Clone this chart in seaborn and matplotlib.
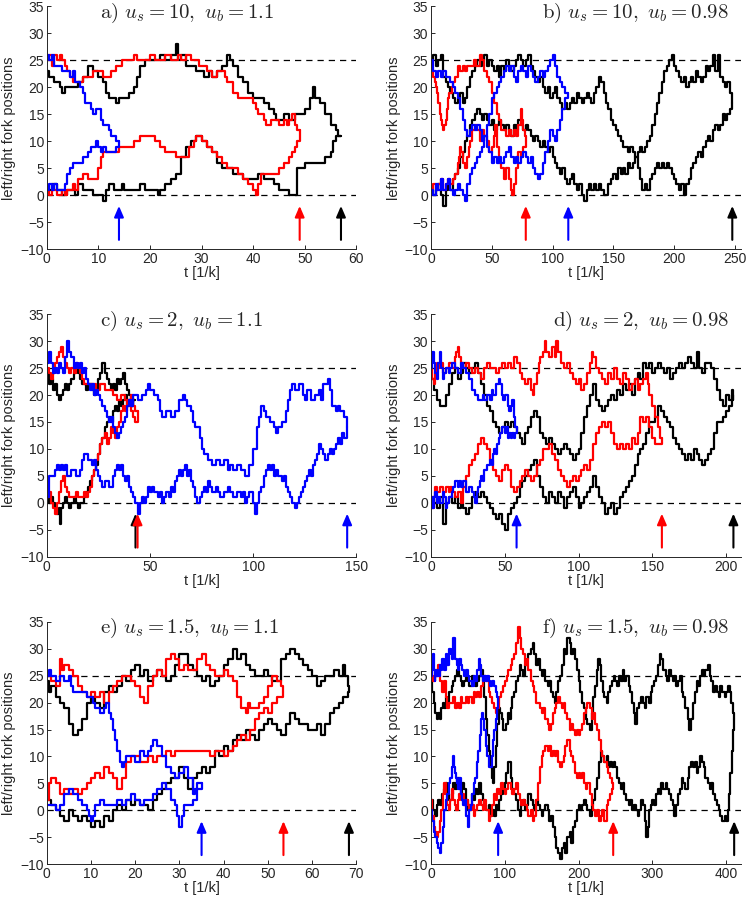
import numpy as np
import pandas as pd
import matplotlib
matplotlib.use("Agg")
import matplotlib.pyplot as plt
import seaborn as sns

# ---- panel a) u_s = 10, u_b = 1.1 ----
a_blue_top = [(0,26),(0.5,25),(1,26),(1.5,24),(2.5,24),(3,23),(4,23),(4.5,22),(5,23),(5.5,21),(6.5,20),(7,19),(7.5,17),(8.5,16),(9,15),(9.5,16),(10,16),(10.5,14),(11,13),(12,12),(12.5,11),(13,11),(13.5,10),(14,10)]
a_blue_bot = [(0,1),(0.5,2),(1,1),(1.5,2),(2,1),(3,1),(3.5,2),(4,4),(4.5,5),(5,6),(6,6),(7,7),(8,8),(8.5,9),(9.5,10),(10,9),(10.5,8),(11,9),(11.5,8),(13,8),(13.5,9),(14,10)]
a_red_top = [(0,25),(0.5,26),(1,24),(1.5,26),(2,25),(2.5,26),(3,25),(3.5,24),(4,23),(4.5,22),(5,21),(6.5,21),(7,22),(8,22),(9,23),(10,23),(11,22),(12,22),(12.5,23),(13.5,24),(14.5,25),(16,25),(17,26),(17.5,25),(19,25),(20,26),(21,25),(22,25),(23,26),(24,25),(25.5,26),(26,25),(27,26),(28,25),(29,25),(29.5,24),(30.5,24),(31,23),(32,22),(33,23),(34,23),(34.5,22),(35,21),(36,19),(37,18),(39,18),(40,17),(40.5,16),(41,15),(42,14),(42.5,13),(43.5,14),(44.5,14),(45,13),(46,14),(46.5,13),(47,14),(47.5,15),(48,13),(48.5,12),(49,12)]
a_red_bot = [(0,1),(0.5,0),(1,1),(2,0),(3,1),(3.5,0),(4,1),(5,2),(5.5,1),(6,3),(7,4),(8,3),(9.5,3),(10,5),(10.5,7),(11,8),(13,8),(14,9),(16,9),(17,10),(18,11),(20.5,11),(21,10),(22,9),(23,8),(24,8),(25,7),(27,7),(27.5,9),(28.5,10),(29,11),(30,10),(31,9),(32,8),(33,7),(34,6),(35,5),(36,5),(37,4),(38,3),(39,2),(40,1),(40.5,0),(41,2),(41.5,4),(44,4),(45,5),(46,6),(47,7),(47.5,8),(48,9),(48.5,10),(49,12)]
a_black_top = [(0,23),(0.5,22),(1.5,21),(2.5,20),(3,19),(3.5,20),(5,20),(6,21),(7,22),(8,24),(9,23),(10,22),(11,21),(11.5,19),(12,18),(13,18),(13.5,17),(14,18),(15,18),(16,19),(17,20),(17.5,22),(18,24),(19,25),(21,25),(22,26),(23,25),(24,26),(25,28),(25.5,25),(26,26),(27,24),(28,24),(29,23),(30,23),(30.5,22),(31.5,23),(32,22),(33,23),(34,24),(35,26),(35.5,25),(36,24),(37,22),(38,21),(39,19),(40,18),(41,18),(42,17),(43,16),(44,15),(44.5,14),(45.5,14),(46,15),(47,14),(48,15),(49,15),(50,16),(51,18),(51.5,20),(52,18),(53,17),(54,15),(55,13),(56,12),(56.5,11),(57,11)]
a_black_bot = [(0,1),(1,2),(2,1),(3,0),(4,1),(5,1),(5.5,0),(6,2),(7,1),(8,1),(9,0),(10,0),(11,-1),(11.5,1),(12,2),(13,1),(14,1),(14.5,2),(15,1),(17,1),(18,2),(19,1),(21,1),(21.5,0),(22,1),(23,2),(24,3),(25,4),(26,7),(27,9),(28,10),(29,11),(30,10),(31,9),(32,8),(33,6),(34,5),(35,5),(36,4),(38,3),(40,3),(41,4),(42,3),(43,3),(44,2),(45,1),(46,1),(47,0),(48,0),(48.5,5),(50,6),(53,6),(54,7),(55,8),(55.5,10),(56,11),(57,11)]

# ---- panel b) u_s = 10, u_b = 0.98 ----
b_red_top = [(0,25),(1,23),(2,22),(3,21),(4,20),(5,19),(6,17),(7,15),(8,14),(9,13),(10,12),(11,13),(12,14),(13,16),(14,18),(15,19),(17,20),(18,21),(20,22),(22,24),(24,23),(26,24),(28,23),(30,24),(33,24),(35,25),(37,24),(40,26),(42,25),(44,23),(46,22),(48,21),(50,19),(52,17),(54,15),(56,14),(58,12),(60,12),(62,11),(64,12),(66,11),(68,12),(70,11),(72,13),(74,16),(75,14),(76,12),(77,11),(78,10)]
b_red_bot = [(0,1),(2,2),(4,1),(6,2),(8,3),(10,1),(12,2),(14,3),(16,2),(18,3),(20,4),(22,6),(23,7),(24,9),(25,8),(26,6),(28,5),(30,7),(31,9),(32,10),(34,12),(36,13),(38,12),(40,10),(42,12),(44,11),(46,10),(48,8),(50,9),(52,11),(53,13),(54,9),(56,6),(58,5),(60,3),(62,5),(64,3),(66,1),(67,0),(68,2),(70,5),(72,8),(74,7),(76,9),(78,10)]
b_blue_top = [(0,25),(2,23),(4,22),(6,23),(8,22),(10,23),(12,22),(14,22),(16,21),(18,20),(20,19),(22,18),(24,16),(26,14),(28,12),(30,11),(32,12),(34,13),(36,12),(38,13),(40,12),(42,10),(44,11),(46,9),(48,8),(50,6),(52,7),(54,6),(56,7),(58,6),(60,7),(62,8),(64,9),(66,7),(68,6),(70,7),(72,6),(74,7),(76,8),(78,7),(80,6),(82,7),(84,5),(86,4),(88,3),(90,4),(92,6),(94,8),(96,10),(98,12),(100,11),(102,10),(104,12),(106,14),(108,16),(110,18),(113,19)]
b_blue_bot = [(0,1),(2,0),(4,2),(6,1),(8,3),(10,1),(12,2),(14,3),(16,1),(18,0),(20,1),(22,2),(24,1),(26,0),(28,-1),(30,2),(32,4),(34,5),(36,6),(38,7),(40,8),(42,9),(44,11),(46,13),(48,15),(50,18),(52,19),(54,20),(56,21),(58,22),(60,23),(62,24),(64,23),(66,24),(68,22),(70,21),(72,23),(74,24),(76,23),(78,22),(80,24),(82,23),(84,22),(86,21),(88,22),(90,23),(92,22),(94,23),(96,24),(98,25),(100,26),(102,24),(104,22),(106,21),(108,20),(110,19),(113,19)]
b_black_top = [(0,25),(2,26),(4,24),(6,25),(8,26),(10,22),(12,21),(14,20),(16,19),(18,18),(20,17),(22,18),(24,19),(26,17),(28,18),(30,20),(32,22),(34,23),(36,24),(38,25),(40,24),(42,25),(44,26),(46,24),(48,25),(50,24),(52,23),(54,24),(56,22),(58,24),(60,23),(62,25),(64,24),(66,23),(68,24),(70,25),(72,26),(74,25),(76,24),(78,25),(80,26),(82,24),(84,23),(86,22),(88,21),(90,22),(92,20),(94,19),(96,20),(98,18),(100,19),(102,20),(104,18),(106,17),(108,16),(110,17),(112,16),(114,17),(116,18),(118,17),(120,19),(122,18),(124,17),(126,18),(128,19),(130,18),(132,17),(134,19),(136,20),(138,22),(140,21),(142,19),(144,17),(146,16),(148,14),(150,13),(152,12),(154,11),(156,10),(158,9),(160,9),(162,8),(164,9),(166,8),(168,7),(170,8),(172,9),(174,8),(176,9),(178,10),(180,11),(182,13),(184,15),(186,17),(188,19),(190,21),(192,23),(194,24),(196,25),(198,26),(200,24),(202,23),(204,22),(206,21),(208,22),(210,20),(212,21),(214,22),(216,21),(218,23),(220,22),(222,21),(224,22),(226,24),(228,23),(230,24),(232,26),(234,23),(236,26),(238,22),(240,21),(242,20),(244,21),(246,19),(248,17)]
b_black_bot = [(0,1),(2,0),(4,1),(6,2),(8,0),(10,-2),(12,1),(14,2),(16,1),(18,3),(20,4),(22,5),(24,7),(26,8),(28,10),(30,11),(32,13),(34,14),(36,15),(38,16),(40,15),(42,14),(44,15),(46,14),(48,13),(50,14),(52,12),(54,13),(56,14),(58,13),(60,12),(62,13),(64,12),(66,11),(68,13),(70,12),(72,14),(74,13),(76,12),(78,13),(80,12),(82,11),(84,10),(86,11),(88,10),(90,9),(92,10),(94,9),(96,8),(98,9),(100,7),(102,6),(104,5),(106,4),(108,5),(110,3),(112,2),(114,3),(116,4),(118,2),(120,1),(122,2),(124,0),(126,-1),(128,1),(130,2),(132,1),(134,2),(136,1),(138,2),(140,1),(142,0),(144,0),(146,2),(148,3),(150,4),(152,3),(154,5),(156,4),(158,5),(160,4),(162,6),(164,5),(166,6),(168,7),(170,5),(172,3),(174,1),(176,2),(178,1),(180,3),(182,4),(184,5),(186,6),(188,5),(190,6),(192,5),(194,6),(196,5),(198,4),(200,3),(202,2),(204,1),(206,2),(208,0),(210,2),(212,3),(214,5),(216,6),(218,7),(220,8),(222,7),(224,9),(226,10),(228,11),(230,10),(232,12),(234,13),(236,12),(238,13),(240,15),(242,14),(244,15),(246,16),(248,17)]

# ---- panel c) u_s = 2, u_b = 1.1 ----
c_black_top = [(0,24),(1,22),(2,23),(3,21),(4,22),(5,20),(6,19),(7,20),(8,21),(9,22),(10,21),(11,22),(12,23),(13,24),(14,25),(15,24),(16,23),(17,22),(18,22),(19,21),(20,22),(21,22),(22,21),(23,20),(24,21),(25,23),(26,24),(27,26),(28,24),(29,23),(30,22),(31,21),(32,22),(33,21),(34,23),(35,22),(36,23),(37,24),(38,22),(39,21),(40,20),(41,18),(42,19),(43,19)]
c_black_bot = [(0,1),(1,0),(2,1),(3,0),(4,-1),(5,-2),(6,-1),(6.5,-4),(7,-1),(8,0),(9,1),(10,0),(11,-1),(12,0),(13,1),(14,0),(15,-1),(16,0),(17,0),(18,1),(19,2),(20,3),(21,4),(22,5),(23,6),(24,7),(25,9),(26,11),(27,12),(28,14),(29,15),(30,16),(31,15),(32,17),(33,18),(34,17),(35,19),(36,18),(37,19),(38,20),(39,18),(40,19),(41,18),(42,19),(43,19)]
c_red_top = [(0,25),(1,24),(2,23),(3,24),(4,26),(5,27),(6,28),(7,29),(8,27),(9,26),(10,25),(11,24),(12,25),(13,24),(14,26),(15,25),(16,24),(17,23),(18,22),(20,22),(22,22),(24,21),(26,22),(28,21),(30,21),(32,20),(34,19),(36,20),(38,19),(40,19),(41,20),(42,18),(43,17),(44,17)]
c_red_bot = [(0,1),(1,2),(2,0),(3,-1),(4,-2),(5,0),(6,2),(7,4),(8,5),(9,3),(10,2),(11,1),(12,1),(14,2),(15,1),(17,1),(18,2),(19,1),(20,2),(21,3),(22,5),(23,6),(24,8),(25,9),(26,11),(27,12),(28,13),(29,11),(30,12),(31,14),(32,13),(33,12),(34,14),(35,15),(36,17),(37,18),(38,17),(39,19),(40,18),(41,17),(42,16),(43,15),(44,17)]
c_blue_top = [(0,26),(1,28),(2,26),(3,24),(4,25),(5,24),(6,26),(7,25),(8,24),(9,27),(10,30),(11,28),(12,27),(13,25),(14,26),(15,25),(16,26),(17,24),(18,25),(19,23),(20,22),(21,21),(22,22),(23,20),(24,21),(25,20),(26,19),(27,18),(28,17),(29,16),(30,15),(31,16),(32,14),(33,13),(34,12),(35,13),(36,14),(37,15),(38,16),(39,18),(40,19),(41,18),(42,20),(44,19),(46,20),(48,21),(49,22),(50,21),(52,20),(54,19),(55,17),(56,16),(58,17),(60,16),(62,17),(64,19),(66,20),(67,19),(68,18),(70,17),(71,15),(72,14),(74,12),(75,10),(76,9),(78,8),(80,7),(82,8),(84,7),(86,8),(88,6),(89,7),(90,6),(92,7),(94,6),(96,5),(98,7),(100,10),(102,14),(103,16),(104,18),(105,17),(106,16),(108,15),(110,14),(111,13),(112,14),(114,15),(116,17),(117,19),(118,21),(119,22),(120,21),(122,22),(124,20),(125,19),(126,21),(128,19),(130,20),(132,21),(133,19),(134,22),(136,23),(137,21),(138,18),(140,17),(141,18),(142,17),(144,16),(145.5,14)]
c_blue_bot = [(0,1),(1,5),(3,5),(4,6),(5,7),(6,6),(7,7),(8,6),(9,7),(10,5),(12,6),(14,5),(16,6),(17,8),(18,9),(20,8),(22,7),(23,8),(24,6),(25,5),(26,4),(27,3),(28,4),(30,3),(32,5),(33,6),(34,7),(35,6),(36,7),(37,5),(38,4),(39,5),(40,3),(41,2),(42,1),(43,0),(44,-2),(45,0),(46,1),(47,0),(48,1),(49,3),(50,2),(51,3),(52,2),(54,1),(55,2),(56,0),(57,1),(58,2),(59,1),(60,3),(61,2),(62,4),(63,5),(64,6),(65,5),(66,6),(67,7),(68,5),(69,6),(70,4),(71,3),(72,1),(73,0),(74,1),(75,2),(76,3),(77,2),(78,4),(79,3),(80,2),(82,3),(83,2),(84,1),(86,2),(88,3),(89,2),(90,1),(92,2),(94,1),(95,2),(96,0),(97,1),(98,2),(100,0),(101,-2),(102,0),(103,2),(104,3),(105,5),(106,6),(107,7),(108,6),(109,7),(110,5),(111,6),(112,5),(114,4),(115,5),(116,3),(117,2),(118,1),(119,0),(120,-1),(121,0),(122,1),(123,2),(124,3),(125,4),(126,5),(127,6),(128,5),(129,7),(130,8),(131,9),(132,11),(133,10),(134,9),(135,8),(136,9),(137,10),(138,9),(139,10),(140,11),(141,12),(142,11),(143,13),(144,12),(145.5,14)]

# ---- panel d) u_s = 2, u_b = 0.98 ----
d_blue_top = [(0,25),(1,28),(2,26),(3,24),(4,23),(5,26),(6,28),(7,25),(8,23),(9,24),(10,25),(12,24),(13,25),(14,26),(16,25),(18,24),(20,26),(22,25),(24,24),(26,23),(28,21),(30,20),(32,19),(34,19),(35,20),(36,19),(38,20),(40,19),(41,21),(42,20),(44,22),(46,23),(47,22),(48,20),(49,19),(50,20),(52,18),(53,17),(54,18),(55,19),(56,16),(57,14),(58,14)]
d_blue_bot = [(0,1),(1,-1),(2,1),(3,2),(4,0),(5,1),(6,0),(8,2),(9,1),(10,-1),(11,0),(12,1),(14,2),(15,3),(16,4),(18,3),(19,4),(20,3),(22,4),(24,2),(26,3),(28,2),(29,1),(30,0),(31,2),(32,3),(33,4),(34,5),(35,4),(36,6),(38,7),(40,8),(41,7),(42,9),(43,10),(44,9),(45,11),(46,12),(47,13),(48,14),(50,13),(51,14),(52,12),(53,13),(54,12),(55,13),(56,12),(57,13),(58,14)]
d_red_top = [(0,25),(1,23),(2,22),(3,24),(4,26),(5,25),(6,26),(8,24),(10,25),(12,26),(14,25),(16,27),(17,28),(18,29),(19,27),(20,26),(22,25),(24,26),(26,25),(28,24),(30,25),(32,24),(34,23),(36,25),(38,26),(40,25),(42,25),(44,24),(46,25),(48,26),(50,25),(52,26),(54,25),(56,27),(58,26),(60,24),(62,23),(64,22),(66,23),(68,21),(69,20),(70,22),(72,24),(73,26),(74,27),(76,28),(77,30),(78,28),(80,27),(82,29),(84,27),(85,30),(86,28),(88,26),(90,25),(92,26),(94,24),(96,23),(98,22),(100,23),(102,21),(104,22),(106,24),(108,26),(109,28),(110,27),(112,25),(114,24),(116,23),(118,22),(120,24),(122,23),(124,25),(126,23),(128,22),(130,24),(132,23),(134,21),(136,22),(138,23),(140,21),(142,22),(144,23),(146,24),(147,22),(148,20),(150,18),(152,16),(154,14),(155,12),(156.5,12)]
d_red_bot = [(0,1),(1,-1),(2,1),(3,3),(4,2),(6,3),(8,2),(10,3),(12,2),(13,3),(14,2),(16,1),(18,2),(20,0),(22,3),(24,5),(26,7),(28,8),(30,9),(32,11),(34,12),(36,11),(38,10),(40,8),(42,6),(44,5),(46,4),(48,6),(50,7),(52,6),(54,3),(56,2),(58,3),(60,4),(62,5),(64,6),(66,5),(68,4),(70,5),(72,7),(74,8),(76,10),(78,10),(80,11),(82,9),(84,8),(86,6),(88,5),(90,4),(92,3),(94,4),(96,5),(98,4),(100,5),(102,6),(104,7),(106,6),(108,8),(110,11),(112,13),(114,14),(116,15),(118,14),(120,15),(122,13),(124,11),(126,10),(128,11),(130,10),(132,11),(134,10),(136,12),(138,11),(140,13),(142,16),(144,15),(146,16),(148,14),(150,12),(152,11),(154,11),(156.5,12)]
d_black_top = [(0,23),(2,21),(4,19),(6,18),(8,18),(10,20),(12,22),(14,24),(16,25),(18,23),(20,24),(22,26),(24,25),(26,24),(28,25),(30,26),(32,24),(34,22),(36,20),(38,18),(40,17),(42,15),(44,14),(46,13),(48,14),(50,15),(52,14),(54,15),(56,14),(58,13),(60,12),(62,11),(64,13),(66,14),(68,16),(70,17),(72,16),(74,13),(76,12),(78,11),(80,12),(82,11),(84,10),(86,9),(88,10),(90,11),(92,10),(94,9),(96,8),(98,9),(100,10),(102,13),(104,16),(106,18),(108,20),(110,22),(112,19),(114,18),(116,17),(118,18),(120,19),(122,20),(124,19),(126,21),(128,20),(130,22),(132,21),(134,22),(136,20),(138,23),(140,24),(142,23),(144,26),(146,25),(148,26),(150,24),(152,25),(154,26),(156,25),(158,24),(160,25),(162,23),(164,24),(166,25),(168,26),(170,25),(172,26),(174,27),(176,26),(178,25),(180,28),(182,25),(184,24),(186,26),(188,26),(190,25),(192,23),(194,21),(196,19),(198,18),(200,20),(202,19),(204,21),(205,19)]
d_black_bot = [(0,1),(2,0),(4,-1),(6,1),(8,-4),(10,0),(12,1),(14,0),(16,1),(18,-1),(20,0),(22,-1),(24,-2),(26,-1),(28,1),(30,2),(32,1),(34,2),(36,1),(38,0),(40,-1),(42,-2),(44,-3),(46,-2),(48,-4),(50,-5),(52,-2),(54,-1),(56,0),(58,1),(60,3),(62,4),(64,5),(66,6),(68,7),(70,8),(72,5),(74,3),(76,1),(78,0),(80,2),(82,1),(84,0),(86,2),(88,1),(90,-1),(92,1),(94,2),(96,3),(98,1),(100,-1),(102,0),(104,1),(106,2),(108,3),(110,5),(112,3),(114,1),(116,0),(118,-2),(120,-1),(122,0),(124,-2),(126,-1),(128,1),(130,2),(132,3),(134,4),(136,5),(138,7),(140,9),(142,10),(144,11),(146,13),(148,15),(150,15),(152,16),(154,18),(156,17),(158,16),(160,15),(162,14),(164,12),(166,11),(168,10),(170,9),(172,8),(174,9),(176,8),(178,10),(180,9),(182,8),(184,7),(186,8),(188,9),(190,10),(192,13),(194,15),(196,15),(198,16),(200,17),(202,18),(204,20),(205,19)]

# ---- panel e) u_s = 1.5, u_b = 1.1 ----
e_blue_top = [(0,25),(0.5,26),(1,25),(2,24),(3,25),(4,24),(5,25),(5.5,23),(6,22),(8,22),(9,21),(10,21),(10.5,20),(11,19),(12,18),(13,19),(13.5,20),(14,18),(14.5,17),(15,15),(15.5,13),(16,11),(16.5,9),(17,8),(17.5,9),(18,10),(19,10),(20,9),(21,11),(22,10),(23,11),(23.5,12),(24,13),(25,12),(26,10),(27,8),(28,7),(29,6),(30,7),(31,8),(32,6),(33,3),(33.5,4),(34,5),(35,5)]
e_blue_bot = [(0,1),(1,1),(2,0),(3,1),(4,3),(5,4),(6,3),(7,2),(8,1),(9,0),(9.5,-1),(10,-2),(10.5,-1),(11,1),(12,2),(13,1),(15,1),(16,2),(17,1),(18,2),(19,3),(20,2),(21,1),(22,2),(23,2),(24,3),(25,4),(26,5),(27,4),(28,2),(29,1),(29.5,-1),(30,-3),(30.5,-1),(31,1),(32,1),(33,2),(34,4),(35,5)]
e_red_top = [(0,25),(1,24),(2,23),(3,28),(3.5,26),(4,27),(5,26),(6,25),(7,23),(8,22),(9,21),(10,22),(11,21),(12,22),(13,20),(14,22),(15,23),(16,24),(17,25),(18,25),(19,24),(20,23),(21,21),(22,20),(23,23),(24,25),(25,26),(26,25),(27,28),(28,29),(29,28),(30,26),(31,27),(32,26),(33,26),(34,28),(35,29),(36,27),(37,26),(38,25),(39,25),(40,26),(41,25),(42,24),(43,21),(44,19),(45,18),(45.5,20),(46,19),(47,19),(48,20),(49,21),(50,23),(51,25),(52,24),(53,23),(53.5,22)]
e_red_bot = [(0,2),(0.5,5),(1,6),(2,5),(3,3),(4,4),(5,3),(6,4),(7,3),(8,4),(9,5),(10,6),(11,7),(12,6),(13,8),(14,7),(15,6),(16,4),(17,6),(18,9),(19,10),(20,10),(21,9),(22,9),(23,10),(24,9),(25,10),(26,10),(27,11),(28,10),(29,11),(30,11),(32,11),(34,11),(36,11),(37,10),(38,11),(40,10),(41,11),(42,12),(43,13),(44,14),(45,13),(46,15),(47,17),(48,18),(49,19),(50,18),(51,20),(52,21),(53,21),(53.5,22)]
e_black_top = [(0,24),(0.5,22),(1,23),(2,21),(3,20),(4,19),(5,16),(6,14),(7,15),(8,17),(9,20),(10,21),(11,20),(12,19),(13,22),(14,23),(15,22),(16,23),(17,25),(18,24),(19,26),(20,27),(21,25),(22,26),(23,24),(24,25),(25,26),(26,25),(27,24),(28,25),(29,27),(30,29),(31,29),(32,27),(33,26),(34,25),(35,24),(36,25),(37,23),(38,24),(39,25),(40,27),(41,28),(42,30),(43,28),(44,29),(45,27),(46,26),(47,25),(48,25),(49,26),(50,25),(51,24),(52,24),(53,28),(54,29),(55,30),(56,29),(57,28),(58,27),(59,26),(60,25),(61,23),(62,24),(63,25),(64,25),(65,26),(66,25),(67,27),(67.5,25),(68,23),(68.3,22)]
e_black_bot = [(0,2),(1,1),(2,0),(3,-1),(4,-2),(5,0),(6,-1),(7,-2),(8,-1),(9,-2),(10,-3),(11,-2),(12,-3),(13,-1),(14,-2),(15,0),(16,1),(17,0),(18,2),(19,1),(20,2),(21,1),(22,1),(23,0),(24,2),(25,3),(26,4),(27,5),(28,6),(29,6),(30,8),(31,6),(32,4),(33,6),(34,7),(35,8),(36,7),(37,8),(38,11),(39,10),(40,12),(41,11),(42,13),(43,14),(44,13),(45,15),(46,14),(47,13),(48,15),(49,16),(50,17),(51,16),(52,15),(53,14),(54,16),(55,18),(56,17),(57,16),(58,16),(59,15),(60,15),(61,16),(62,14),(63,16),(64,18),(65,19),(66,20),(67,21),(68,22),(68.3,22)]

# ---- panel f) u_s = 1.5, u_b = 0.98 ----
f_blue_top = [(0,25),(2,27),(3,29),(4,26),(5,24),(6,25),(8,26),(10,25),(12,27),(14,26),(15,28),(17,27),(18,26),(20,29),(22,27),(24,28),(25,30),(27,29),(28,28),(30,32),(32,29),(33,28),(35,27),(36,26),(38,28),(40,27),(42,26),(45,25),(48,26),(50,25),(52,24),(55,23),(58,25),(60,24),(62,26),(65,28),(66,27),(68,25),(70,24),(72,25),(74,24),(76,25),(78,24),(80,23),(82,24),(85,23),(88,22),(90,21),(91,20)]
f_blue_bot = [(0,0),(2,-2),(4,-4),(6,-5),(8,-6),(10,-7),(12,-8),(14,-6),(16,-3),(18,0),(20,2),(22,3),(24,5),(26,6),(28,8),(30,10),(31,8),(32,7),(34,6),(35,5),(36,4),(38,6),(40,3),(42,2),(44,1),(46,2),(48,-1),(50,-3),(52,0),(54,1),(56,3),(58,5),(60,6),(62,9),(64,11),(66,14),(68,17),(69,18),(70,17),(72,15),(74,12),(76,10),(78,8),(80,8),(82,10),(84,13),(86,15),(88,17),(90,19),(91,20)]
f_red_top = [(0,25),(3,24),(5,26),(8,25),(10,27),(12,24),(15,22),(18,24),(20,21),(22,19),(25,20),(28,20),(30,21),(32,19),(35,20),(38,19),(40,21),(42,20),(45,20),(48,21),(50,20),(52,21),(55,20),(58,22),(60,21),(62,22),(65,21),(68,23),(70,24),(72,25),(75,24),(78,22),(80,21),(82,20),(85,19),(88,18),(90,19),(92,21),(95,22),(98,23),(100,24),(103,25),(105,26),(108,27),(110,28),(112,29),(115,31),(118,34),(120,32),(122,30),(125,29),(128,27),(130,28),(132,26),(135,24),(138,23),(140,22),(142,20),(145,20),(148,19),(150,18),(152,19),(155,17),(158,16),(160,15),(162,16),(165,18),(168,19),(170,20),(172,21),(175,20),(178,19),(180,20),(182,18),(185,17),(188,15),(190,16),(192,15),(195,14),(198,15),(200,14),(202,15),(205,16),(208,18),(210,19),(212,20),(215,19),(218,17),(220,18),(222,16),(225,15),(228,13),(230,11),(232,10),(235,9),(238,8),(240,7),(242,6),(245,5),(247,5)]
f_red_bot = [(0,2),(2,-1),(4,-3),(6,-4),(8,-5),(10,-4),(12,-2),(14,0),(16,3),(18,5),(20,3),(22,1),(24,0),(26,2),(28,4),(30,2),(32,1),(34,0),(36,2),(38,3),(40,2),(42,3),(45,1),(48,2),(50,1),(52,0),(55,1),(58,-1),(60,0),(62,1),(65,2),(68,1),(70,0),(72,2),(75,0),(78,-2),(80,-1),(82,1),(85,3),(88,2),(90,4),(92,3),(95,5),(98,4),(100,3),(102,4),(105,5),(108,4),(110,3),(112,4),(115,5),(118,3),(120,2),(122,1),(125,2),(128,1),(130,0),(132,-1),(135,0),(138,-2),(140,-1),(142,2),(145,5),(148,8),(150,10),(152,11),(155,12),(158,11),(160,12),(162,10),(165,11),(168,10),(170,11),(172,9),(175,8),(178,9),(180,10),(182,12),(185,13),(188,11),(190,10),(192,9),(195,7),(198,6),(200,7),(202,6),(205,7),(208,5),(210,4),(212,5),(215,3),(218,1),(220,0),(222,-1),(225,0),(228,-2),(230,-1),(232,0),(235,-2),(238,1),(240,2),(242,3),(245,4),(247,5)]
f_black_top = [(0,24),(2,22),(4,20),(6,18),(8,17),(10,18),(12,17),(14,19),(16,20),(18,19),(20,21),(22,20),(25,22),(28,23),(30,24),(32,25),(35,26),(38,25),(40,24),(42,23),(45,24),(48,25),(50,24),(52,23),(55,25),(58,24),(60,23),(62,24),(65,25),(68,26),(70,24),(72,21),(74,17),(76,14),(78,11),(80,8),(82,6),(84,5),(86,8),(88,12),(90,16),(92,19),(94,18),(96,17),(98,15),(100,15),(102,16),(104,18),(106,17),(108,19),(110,21),(112,22),(115,24),(118,25),(120,27),(122,26),(125,25),(128,27),(130,28),(132,29),(135,30),(138,31),(140,29),(142,27),(145,28),(148,26),(150,25),(152,26),(155,24),(158,23),(160,24),(162,22),(165,21),(168,20),(170,22),(172,24),(175,25),(178,27),(180,30),(182,29),(185,32),(188,31),(190,29),(192,30),(195,28),(198,26),(200,24),(202,22),(205,20),(208,19),(210,17),(212,16),(215,15),(218,18),(220,21),(222,23),(225,26),(227,28),(229,27),(231,24),(233,22),(235,21),(238,20),(240,22),(242,23),(245,24),(248,25),(250,24),(252,23),(255,25),(258,24),(260,26),(262,24),(265,25),(268,23),(270,22),(272,20),(275,18),(277,16),(279,19),(282,20),(285,21),(288,20),(290,19),(292,21),(295,20),(298,22),(300,23),(302,24),(305,25),(308,27),(310,29),(312,28),(315,26),(318,25),(320,24),(322,26),(325,25),(328,24),(330,25),(332,23),(335,24),(338,25),(340,22),(342,21),(345,19),(348,17),(350,15),(352,17),(355,20),(358,22),(360,24),(362,23),(365,25),(368,26),(370,25),(372,26),(375,27),(378,25),(380,24),(382,22),(385,23),(388,22),(390,21),(392,23),(395,22),(398,21),(400,22),(402,23),(405,22),(407,20),(409,18),(411,17)]
f_black_bot = [(0,2),(3,0),(5,-1),(8,1),(10,2),(12,1),(15,3),(18,4),(20,5),(22,3),(25,2),(28,3),(30,5),(32,4),(35,6),(38,4),(40,3),(42,5),(45,4),(48,2),(50,0),(52,1),(55,3),(58,2),(60,4),(62,3),(65,5),(68,3),(70,2),(72,1),(75,0),(78,1),(80,-1),(82,0),(85,-1),(88,1),(90,0),(92,2),(95,3),(98,4),(100,5),(102,7),(105,9),(108,6),(110,4),(112,3),(115,2),(118,0),(120,-1),(122,1),(125,2),(128,0),(130,1),(132,3),(135,2),(138,1),(140,0),(142,2),(145,1),(148,0),(150,-1),(152,0),(155,1),(158,0),(160,-2),(162,-1),(165,-3),(168,-5),(170,-7),(172,-8),(175,-9),(178,-7),(180,-6),(182,-8),(185,-5),(188,-4),(190,-6),(192,-3),(195,-2),(198,0),(200,1),(202,0),(205,1),(208,2),(210,1),(212,0),(215,-1),(218,1),(220,2),(222,4),(225,6),(228,9),(230,11),(232,10),(235,9),(238,10),(240,8),(242,9),(245,8),(248,9),(250,8),(252,6),(255,5),(258,4),(260,5),(262,3),(265,2),(268,1),(270,2),(272,0),(275,1),(278,0),(280,-1),(282,0),(285,2),(288,1),(290,-2),(292,-5),(294,-3),(296,0),(298,1),(300,2),(302,1),(305,3),(308,4),(310,3),(312,5),(315,4),(318,5),(320,4),(322,3),(325,2),(328,1),(330,-1),(332,1),(335,3),(338,4),(340,6),(342,5),(345,4),(348,6),(350,8),(352,9),(355,8),(358,9),(360,7),(362,8),(365,10),(368,9),(370,8),(372,6),(375,5),(378,4),(380,5),(382,3),(385,2),(388,1),(390,0),(392,-1),(395,-2),(398,-1),(400,-2),(402,0),(404,3),(406,7),(408,11),(410,15),(411,17)]

titles = [r'$\mathrm{a)}\ u_s = 10,\ u_b = 1.1$', r'$\mathrm{b)}\ u_s = 10,\ u_b = 0.98$',
          r'$\mathrm{c)}\ u_s = 2,\ u_b = 1.1$', r'$\mathrm{d)}\ u_s = 2,\ u_b = 0.98$',
          r'$\mathrm{e)}\ u_s = 1.5,\ u_b = 1.1$', r'$\mathrm{f)}\ u_s = 1.5,\ u_b = 0.98$']
xmax = [60, 255, 150, 210, 70, 420]
xticks = [np.arange(0, 61, 10), np.arange(0, 251, 50), np.arange(0, 151, 50),
          np.arange(0, 201, 50), np.arange(0, 71, 10), np.arange(0, 401, 100)]

# each panel: (colour, left fork, right fork), drawn in this order
panels = [
    [('k', a_black_top, a_black_bot), ('r', a_red_top, a_red_bot), ('b', a_blue_top, a_blue_bot)],
    [('k', b_black_top, b_black_bot), ('r', b_red_top, b_red_bot), ('b', b_blue_top, b_blue_bot)],
    [('k', c_black_top, c_black_bot), ('r', c_red_top, c_red_bot), ('b', c_blue_top, c_blue_bot)],
    [('k', d_black_top, d_black_bot), ('r', d_red_top, d_red_bot), ('b', d_blue_top, d_blue_bot)],
    [('k', e_black_top, e_black_bot), ('r', e_red_top, e_red_bot), ('b', e_blue_top, e_blue_bot)],
    [('k', f_black_top, f_black_bot), ('r', f_red_top, f_red_bot), ('b', f_blue_top, f_blue_bot)],
]

sns.set_style('ticks')
plt.rcParams['font.family'] = ['Liberation Sans', 'DejaVu Sans']
plt.rcParams['mathtext.fontset'] = 'cm'
plt.rcParams['xtick.direction'] = 'in'
plt.rcParams['ytick.direction'] = 'in'

fig = plt.figure(figsize=(7.47, 9.0), dpi=100)
lefts = [0.0625, 0.577]
bottoms = [0.7233, 0.3814, 0.0397]
w, h = 0.4147, 0.2695

colour_map = {'k': (0, 0, 0), 'r': (1, 0, 0), 'b': (0, 0, 1)}

for i, paths in enumerate(panels):
    row, col = divmod(i, 2)
    ax = fig.add_axes([lefts[col], bottoms[row], w, h])
    ax.axhline(25, color='k', ls='--', lw=0.9, dashes=(5, 4), zorder=1)
    ax.axhline(0, color='k', ls='--', lw=0.9, dashes=(5, 4), zorder=1)
    for c, top, bot in paths:
        for pts in (top, bot):
            df = pd.DataFrame(pts, columns=['t', 'y'])
            sns.lineplot(data=df, x='t', y='y', ax=ax, color=colour_map[c], lw=1.6,
                         sort=False, estimator=None, drawstyle='steps-post', zorder=2)
        t_end = top[-1][0]
        ax.annotate('', xy=(t_end, -2.0), xytext=(t_end, -8.3),
                    arrowprops=dict(arrowstyle='-|>,head_length=0.65,head_width=0.28',
                                    color=colour_map[c], lw=1.5, shrinkA=0, shrinkB=0,
                                    mutation_scale=10))
    ax.set_xlim(0, xmax[i])
    ax.set_ylim(-10, 35)
    ax.set_yticks(np.arange(-10, 36, 5))
    ax.set_xticks(xticks[i])
    ax.tick_params(labelsize=10, length=3, width=0.7, pad=2)
    for s in ax.spines.values():
        s.set_linewidth(0.7)
    sns.despine(ax=ax)
    ax.set_xlabel('t [1/k]', fontsize=10.5, labelpad=0)
    ax.set_ylabel('left/right fork positions', fontsize=10.5, labelpad=3)
    if col == 0:
        ax.text(0.172, 0.972, titles[i], transform=ax.transAxes, ha='left', va='center', fontsize=15)
    else:
        ax.text(0.962, 0.972, titles[i], transform=ax.transAxes, ha='right', va='center', fontsize=15)

fig.savefig('out.png', dpi=100)
